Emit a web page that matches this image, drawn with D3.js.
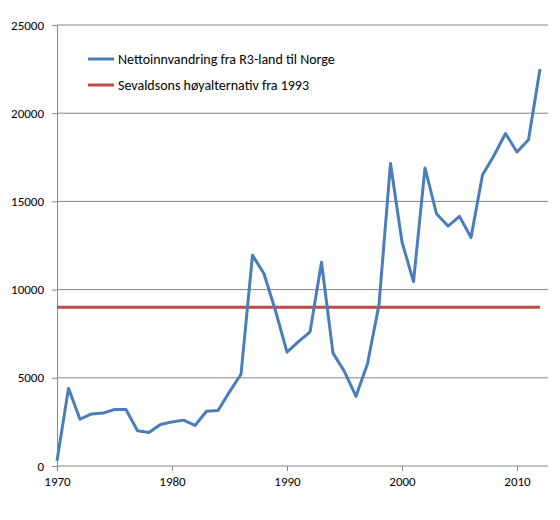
<!DOCTYPE html>
<html>
<head>
<meta charset="utf-8">
<script src="https://cdn.jsdelivr.net/npm/d3@7"></script>
<style>
  body { margin: 0; background: #fff; font-family: Calibri, "Carlito", "Open Sans", sans-serif; }
</style>
</head>
<body>
<div id="viz-container"></div>
<script>
// years and values
let years = d3.range(1970, 2013);
let netto = [300, 4400, 2650, 2950, 3000, 3200, 3200, 2000, 1900, 2350,
  2500, 2600, 2300, 3100, 3150, 4200, 5200, 11950, 10900, 8800,
  6450, 7050, 7600, 11550, 6400, 5350, 3950, 5800, 9150, 17150,
  12700, 10450, 16900, 14300, 13600, 14150, 12950, 16500, 17600, 18850,
  17800, 18500, 22500];
let sevaldsen = years.map(() => 9000);
let yTicks = [0, 5000, 10000, 15000, 20000, 25000];
let xTicks = [1970, 1980, 1990, 2000, 2010];
let labels = ["Nettoinnvandring fra R3-land til Norge", "Sevaldsons høyalternativ fra 1993"];
let colors = ["#4a7ebb", "#be4b48"];

let viz = d3.select("#viz-container")
  .append("svg")
    .attr("width", 560)
    .attr("height", 520)
;

let x = d3.scaleLinear().domain([1970, 2010]).range([57, 517]);
let y = d3.scaleLinear().domain([0, 25000]).range([466, 25]);

// gridlines
viz.append("g")
  .selectAll("line")
  .data(yTicks.slice(1))
  .join("line")
    .attr("x1", 57).attr("x2", 548)
    .attr("y1", d => y(d)).attr("y2", d => y(d))
    .attr("stroke", "#868686").attr("stroke-width", 1)
;

// y axis
let yAxis = viz.append("g")
  .attr("transform", "translate(57,0)")
  .call(d3.axisLeft(y).tickValues(yTicks).tickSize(5).tickPadding(8).tickFormat(d3.format("d")));
yAxis.selectAll("path, line").attr("stroke", "#868686");
yAxis.selectAll("text").attr("font-size", 13).attr("fill", "#000")
  .attr("font-family", "Calibri, Carlito, 'Open Sans', sans-serif");

// x axis
let xAxis = viz.append("g")
  .attr("transform", "translate(0,466)")
  .call(d3.axisBottom(x).tickValues(xTicks).tickSize(5).tickPadding(6).tickFormat(d3.format("d")));
xAxis.select("path").attr("d", "M57,0H548").attr("stroke", "#868686");
xAxis.selectAll("line").attr("stroke", "#868686");
xAxis.selectAll("text").attr("font-size", 13).attr("fill", "#000")
  .attr("font-family", "Calibri, Carlito, 'Open Sans', sans-serif");

let line = d3.line().x((d, i) => x(years[i])).y(d => y(d));

viz.append("path")
  .datum(sevaldsen)
  .attr("d", line)
  .attr("fill", "none")
  .attr("stroke", colors[1])
  .attr("stroke-width", 3)
;

viz.append("path")
  .datum(netto)
  .attr("d", line)
  .attr("fill", "none")
  .attr("stroke", colors[0])
  .attr("stroke-width", 3)
  .attr("stroke-linejoin", "round")
;

// legend
let legend = viz.append("g")
  .selectAll("g")
  .data(labels)
  .join("g")
    .attr("transform", (d, i) => `translate(88,${59 + i * 26})`)
;
legend.append("line")
  .attr("x1", 0).attr("x2", 26)
  .attr("stroke", (d, i) => colors[i])
  .attr("stroke-width", 3)
;
legend.append("text")
  .attr("x", 30).attr("y", 5)
  .attr("font-size", 14)
  .text(d => d)
;
</script>
</body>
</html>
